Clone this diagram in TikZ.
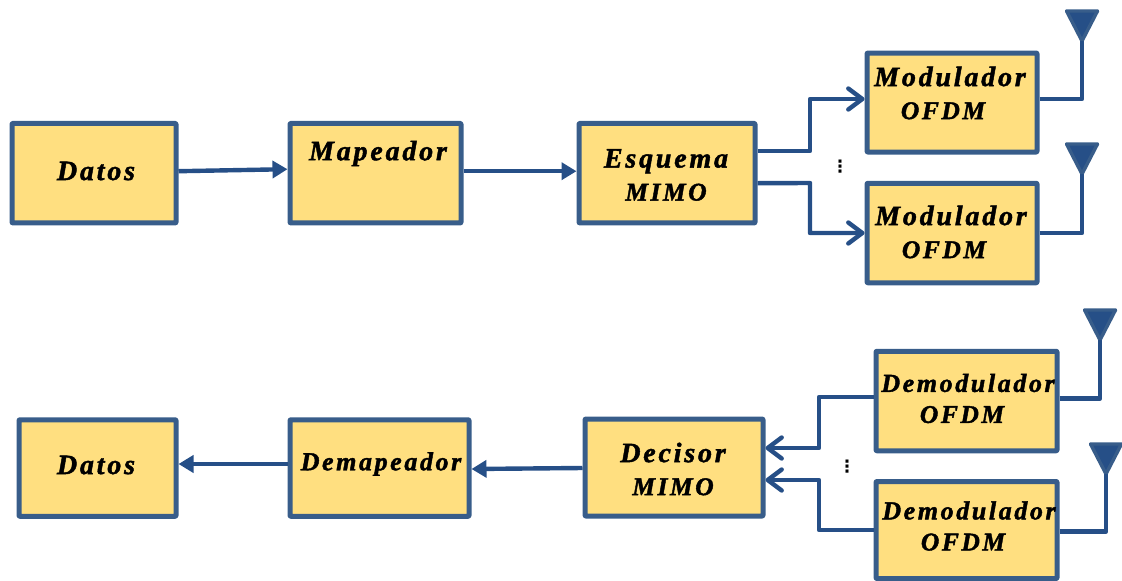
\documentclass[tikz,border=0pt]{standalone}
\usepackage{fontspec}
\setmainfont{Liberation Serif}[LetterSpace=10,FakeBold=1.6]
\newfontfamily\dotfont{DejaVu Sans}
\usetikzlibrary{arrows.meta,calc}
\definecolor{boxfill}{HTML}{FFDF80}
\definecolor{boxline}{HTML}{385D8A}
\definecolor{wire}{HTML}{264F87}
\tikzset{
  blockbox/.style={draw=boxline,fill=boxfill,line width=5pt,line join=round,rounded corners=0.6pt},
  blocktext/.style={font=\fontsize{28}{33}\selectfont\bfseries\itshape,align=center,inner sep=0pt,text=black},
  smalltext/.style={blocktext,font=\fontsize{26}{31}\selectfont\bfseries\itshape},
  wireline/.style={draw=wire,line width=4.4pt,line join=round},
  solidhead/.style={-{Stealth[length=15pt,width=17pt,inset=0pt]}},
  openhead/.style={-{Straight Barb[length=14pt,width=21pt,line width=4.4pt,round]}},
  antennatri/.style={fill=wire,draw=boxline,line width=3.4pt,line join=round},
  vdots/.style={font=\dotfont\bfseries\fontsize{17}{17}\selectfont,inner sep=0pt,text=black}
}
\newcommand{\antenna}[1]{\path[antennatri] ($(#1)+(-15.5,-30)$) -- ($(#1)+(15.5,-30)$) -- (#1) -- cycle;}
\newcommand{\capsline}[1]{{\fontsize{25.5}{31}\selectfont #1}}
\begin{document}
\begin{tikzpicture}[x=1pt,y=-1pt]
\useasboundingbox (0,0) rectangle (1122,581);
% transmit
\node[blockbox,minimum width=164pt,minimum height=99.5pt] (datosA) at (94,173.2) {};
\node[blockbox,minimum width=171pt,minimum height=99.5pt] (map) at (375.5,173.2) {};
\node[blockbox,minimum width=176pt,minimum height=99.5pt] (esq) at (667,173.2) {};
\node[blockbox,minimum width=170pt,minimum height=99pt] (modA) at (952,102.5) {};
\node[blockbox,minimum width=170pt,minimum height=99.5pt] (modB) at (952,233) {};
\node[blocktext] (tdatosA) at (96,171) {Datos};
\node[blocktext] (tmap) at (378,153.5) {Mapeador};
\node[blocktext] (tesq) at (666,175) {Esquema\\\capsline{MIMO}};
\node[blocktext] (tmodA) at (950,93) {Modulador\\\kern-14pt \capsline{OFDM}};
\node[blocktext] (tmodB) at (951,232) {Modulador\\\kern-14pt \capsline{OFDM}};
% receive
\node[blockbox,minimum width=181pt,minimum height=99.5pt] (demA) at (966.5,401) {};
\node[blockbox,minimum width=181pt,minimum height=97pt] (demB) at (966.5,530) {};
\node[blockbox,minimum width=157pt,minimum height=96.5pt] (datosB) at (97.5,468) {};
\node[blockbox,minimum width=179pt,minimum height=96.5pt] (demap) at (379.5,468) {};
\node[blockbox,minimum width=178pt,minimum height=97pt] (dec) at (674,467.5) {};
\node[smalltext] (tdemA) at (968,398.5) {Demodulador\\\kern-12pt \capsline{OFDM}};
\node[smalltext] (tdemB) at (969,526) {Demodulador\\\kern-12pt \capsline{OFDM}};
\node[blocktext] (tdatosB) at (96,465) {Datos};
\node[smalltext] (tdemap) at (381,464) {Demapeador};
\node[blocktext] (tdec) at (673,469) {Decisor\\\capsline{MIMO}};
% dots
\node[vdots] (dotsA) at (840,167) {⋮};
\node[vdots] (dotsB) at (847,467) {⋮};
% antennas
\coordinate (antA) at (1082,41);
\coordinate (antB) at (1082,174);
\coordinate (antC) at (1100,340);
\coordinate (antD) at (1106,474);
\antenna{antA}\antenna{antB}\antenna{antC}\antenna{antD}
% top connectors
\draw[wireline,solidhead] ([yshift=2pt]datosA.east) -- ([yshift=4pt]map.west);
\draw[wireline,solidhead] ([yshift=2pt]map.east) -- ([yshift=2pt]esq.west);
\draw[wireline,openhead] ([yshift=22pt]esq.east) -- (810,151.2) -- (810,99) -- ([yshift=3.5pt]modA.west);
\draw[wireline,openhead] ([yshift=-10pt]esq.east) -- (810,183) -- (810,233) -- (modB.west);
\draw[wireline] ([yshift=3.5pt]modA.east) -| (antA);
\draw[wireline] (modB.east) -| (antB);
% bottom connectors
\draw[wireline,openhead] ([yshift=4pt]demA.west) -- (819,397) -- (819,448) -- ([yshift=19.5pt]dec.east);
\draw[wireline,openhead] (demB.west) -- (819,530) -- (819,480) -- ([yshift=-12.5pt]dec.east);
\draw[wireline] ([yshift=2.5pt]demA.east) -| (antC);
\draw[wireline] ([yshift=-1.5pt]demB.east) -| (antD);
\draw[wireline,solidhead] ([yshift=-0.5pt]dec.west) -- ([yshift=-1pt]demap.east);
\draw[wireline,solidhead] ([yshift=4pt]demap.west) -- ([yshift=4pt]datosB.east);
\end{tikzpicture}
\end{document}
